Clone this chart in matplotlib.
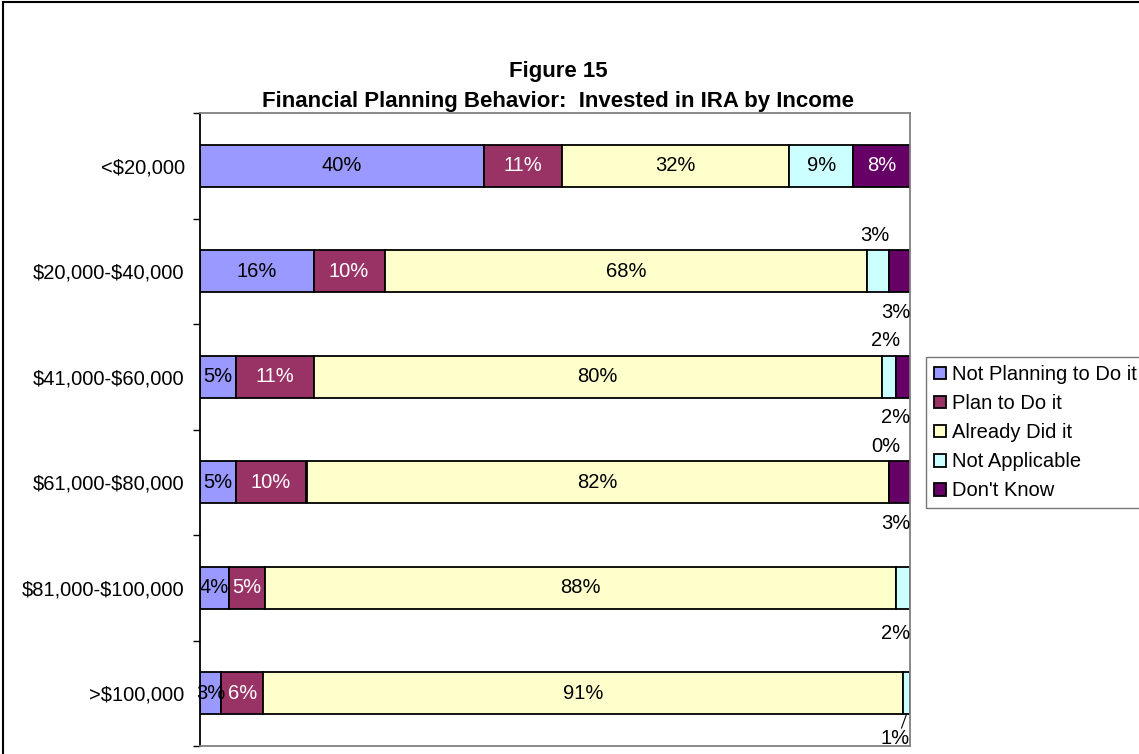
import numpy as np
import matplotlib
matplotlib.use("Agg")
import matplotlib.pyplot as plt
from matplotlib.patches import Rectangle

plt.rcParams['font.family'] = ['Liberation Sans', 'DejaVu Sans']
plt.rcParams['text.parse_math'] = False

categories = ['<$20,000', '$20,000-$40,000', '$41,000-$60,000',
              '$61,000-$80,000', '$81,000-$100,000', '>$100,000']
series_names = ['Not Planning to Do it', 'Plan to Do it', 'Already Did it',
                'Not Applicable', "Don't Know"]
not_planning = [40, 16, 5, 5, 4, 3]
plan_to = [11, 10, 11, 10, 5, 6]
already_did = [32, 68, 80, 82, 88, 91]
not_applicable = [9, 3, 2, 0, 2, 1]
dont_know = [8, 3, 2, 3, 0, 0]

colors = ['#9999FF', '#993366', '#FFFFCC', '#CCFFFF', '#660066']
text_colors = ['black', 'white', 'black', 'black', 'white']

# where each label goes: 'in', 'up', 'down' or None (no label)
na_place = ['in', 'up', 'up', 'up', 'down', 'down']
dk_place = ['in', 'down', 'down', 'down', None, None]

FS = 14.5


def main():
    data = np.array([not_planning, plan_to, already_did, not_applicable, dont_know], dtype=float)
    totals = data.sum(axis=0)
    frac = data / totals

    fig = plt.figure(figsize=(11.39, 7.54), dpi=100)
    ax = fig.add_axes([200 / 1139, 1 - 746 / 754, 710 / 1139, 633 / 754])

    y = np.arange(len(categories))
    left = np.zeros(len(categories))
    places = [['in'] * 6, ['in'] * 6, ['in'] * 6, na_place, dk_place]
    for s in range(len(series_names)):
        ax.barh(y, frac[s], left=left, height=0.4, color=colors[s],
                edgecolor='black', linewidth=1.3, label=series_names[s])
        for i in range(len(categories)):
            p = places[s][i]
            txt = '%d%%' % data[s][i]
            cx = left[i] + frac[s][i] / 2
            if p == 'in':
                ax.text(cx, y[i], txt, ha='center', va='center',
                        color=text_colors[s], fontsize=FS)
            elif p == 'up':
                ax.text(cx - 0.004, y[i] - 0.34, txt, ha='center', va='center', fontsize=FS)
            elif p == 'down':
                dy = 0.39 if i < 4 else 0.43
                if frac[s][i] < 0.012:
                    ax.plot([cx, cx - 0.007], [y[i] + 0.2, y[i] + 0.33],
                            color='black', linewidth=0.8)
                ax.text(1.0, y[i] + dy, txt, ha='right', va='center', fontsize=FS)
        left = left + frac[s]

    ax.set_xlim(0, 1)
    ax.set_ylim(len(categories) - 0.5, -0.5)
    ax.set_xticks([])
    ax.set_yticks(y)
    ax.set_yticklabels(categories, fontsize=FS)
    ax.tick_params(axis='y', which='major', length=0, pad=11)
    ax.set_yticks(np.arange(-0.5, len(categories), 1.0), minor=True)
    ax.tick_params(axis='y', which='minor', length=5, width=1, direction='out')
    for side in ['top', 'right', 'bottom']:
        ax.spines[side].set_color('#808080')
        ax.spines[side].set_linewidth(1.3)
    ax.spines['left'].set_linewidth(1.3)

    fig.text(558 / 1139, 1 - 72 / 754, 'Figure 15', ha='center', va='center',
             fontsize=16, fontweight='bold')
    fig.text(558 / 1139, 1 - 102 / 754,
             'Financial Planning Behavior:  Invested in IRA by Income',
             ha='center', va='center', fontsize=16, fontweight='bold')

    leg = fig.legend(loc='upper left', bbox_to_anchor=(926 / 1139, 1 - 357 / 754),
                     fontsize=FS, frameon=True, fancybox=False, handlelength=0.6,
                     handleheight=0.6, handletextpad=0.3, labelspacing=0.5,
                     borderpad=0.4, borderaxespad=0)
    leg.get_frame().set_edgecolor('#555555')
    leg.get_frame().set_linewidth(1.0)

    fig.patches.append(Rectangle((3 / 1139, -0.05), 1.1, 1.05 - 2 / 754,
                                 transform=fig.transFigure, fill=False,
                                 edgecolor='black', linewidth=1.5))
    fig.savefig('out.png', dpi=100)


if __name__ == "__main__":
    main()
